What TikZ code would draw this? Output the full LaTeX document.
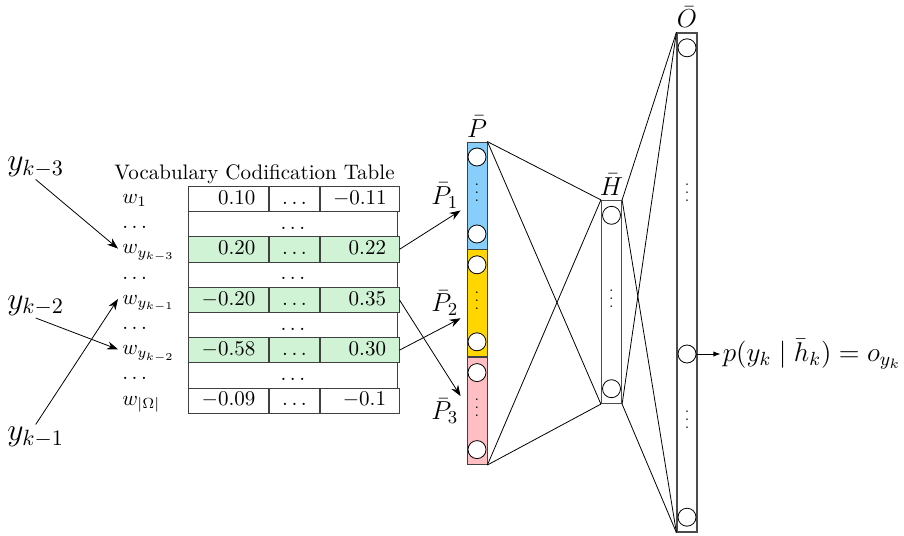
\RequirePackage{fix-cm}
\documentclass[tikz,border=0pt]{standalone}
\usetikzlibrary{positioning,arrows.meta}
\definecolor{hitgreen}{RGB}{208,243,213}
\definecolor{pblue}{RGB}{135,206,250}
\definecolor{pyellow}{RGB}{255,214,0}
\definecolor{ppink}{RGB}{255,190,195}
\begin{document}
\begin{tikzpicture}[x=0.5pt, y=-0.5pt, >={Stealth[length=5.5pt,width=4pt]},
  every node/.style={font=\fontsize{10.5}{12.6}\selectfont},
  cell/.style={draw=black!75, anchor=north west, inner xsep=6.5pt, inner ysep=2.15pt, text height=6.8pt, text depth=1.5pt, align=right},
  ca/.style={cell, text width=27pt},
  cb/.style={cell, text width=12pt, align=center},
  cc/.style={cell, text width=26.5pt},
  gap/.style={cell, text width=91.5pt, align=center},
  wlab/.style={anchor=base west, inner xsep=2pt, text height=6.8pt, text depth=1.5pt},
  ylab/.style={anchor=base west, inner sep=1pt, font=\fontsize{15.8}{19}\selectfont},
  plab/.style={inner sep=1pt, font=\fontsize{13}{15.6}\selectfont},
  seg/.style={draw=black!75, minimum width=10pt, minimum height=53.5pt, inner sep=0pt},
  layer/.style={draw=black!70, line width=0.6pt, minimum width=10pt, inner sep=0pt},
  neuron/.style={circle, draw, fill=white, minimum size=9pt, inner sep=0pt},
  vd/.style={font=\scriptsize, yshift=4.5pt, inner sep=0pt}]
\useasboundingbox (0,0) rectangle (904,535);
% Codification table
\node[anchor=base] (title) at (254.5,179) {Vocabulary Codification Table};
\foreach \i/\a/\c/\f in {1/0.10/-0.11/white, 3/0.20/0.22/hitgreen, 5/-0.20/0.35/hitgreen, 7/-0.58/0.30/hitgreen, 9/-0.09/-0.1/white} {
  \node[ca, fill=\f] (a\i) at (188,{186+(\i-1)*25.2}) {$\a$};
  \node[cb, fill=\f, right=0pt of a\i] (b\i) {$\dots$};
  \node[cc, fill=\f, right=0pt of b\i] (c\i) {$\c$};
}
\foreach \i in {2,4,6,8}
  \node[gap] (a\i) at (188,{186+(\i-1)*25.2}) {$\dots$};
% Word labels
\foreach \i/\lab in {1/w_1, 2/\dots, 3/w_{y_{k-3}}, 4/\dots, 5/w_{y_{k-1}}, 6/\dots, 7/w_{y_{k-2}}, 8/\dots, 9/w_{|\Omega|}}
  \node[wlab] (w\i) at (118,{203.5+(\i-1)*25.2}) {$\lab$};
% Context words
\node[ylab] (y3) at (5,170.5) {$y_{k-3}$};
\node[ylab] (y2) at (5,309) {$y_{k-2}$};
\node[ylab] (y1) at (5,440.5) {$y_{k-1}$};
\draw[->] (y3.south) -- (w3.west);
\draw[->] (y2.south) -- (w7.west);
\draw[->] (y1.north) -- (w5.west);
% Projection layer
\node[seg, fill=pblue] (P1) at (477,195.5) {};
\node[seg, fill=pyellow, below=0pt of P1] (P2) {};
\node[seg, fill=ppink, below=0pt of P2] (P3) {};
\node[plab, above=1pt of P1] (Pl) {$\bar P$};
\node[plab, left=3pt of P1] (l1) {$\bar P_1$};
\node[plab, left=3pt of P2] (l2) {$\bar P_2$};
\node[plab, left=3pt of P3] (l3) {$\bar P_3$};
\draw[->] (c3.east) -- (l1.south east);
\draw[->] (c5.east) -- (l3.north east);
\draw[->] (c7.east) -- (l2.south east);
% Hidden and output layers
\node[layer, minimum height=101.5pt] (H) at (611.5,302) {};
\node[layer, minimum height=249.5pt] (O) at (687,282.5) {};
\node[plab, above=1pt of H] (Hl) {$\bar H$};
\node[plab, above=1pt of O] (Ol) {$\bar O$};
\foreach \a in {P1.north east, P3.south east}
  \foreach \b in {H.north west, H.south west} \draw (\a) -- (\b);
\foreach \a in {H.north east, H.south east}
  \foreach \b in {O.north west, O.south west} \draw (\a) -- (\b);
% Units
\foreach \s in {P1,P2,P3,H,O} {
  \node[neuron, below=3pt of \s.north] (\s-t) {};
  \node[neuron, above=3pt of \s.south] (\s-b) {};
}
\foreach \s in {P1,P2,P3,H} \node[vd] at (\s) {$\vdots$};
\node[vd] at (687,196) {$\vdots$};
\node[vd] at (687,423) {$\vdots$};
\node[neuron] (O-m) at (687,354) {};
% Output
\node[right=12pt of O-m, inner sep=1pt, font=\fontsize{13.6}{16}\selectfont] (out) {$p(y_k \mid \bar h_k) = o_{y_k}$};
\draw[-{Latex[length=3.5pt]}] (O-m) -- (out);
\end{tikzpicture}
\end{document}
